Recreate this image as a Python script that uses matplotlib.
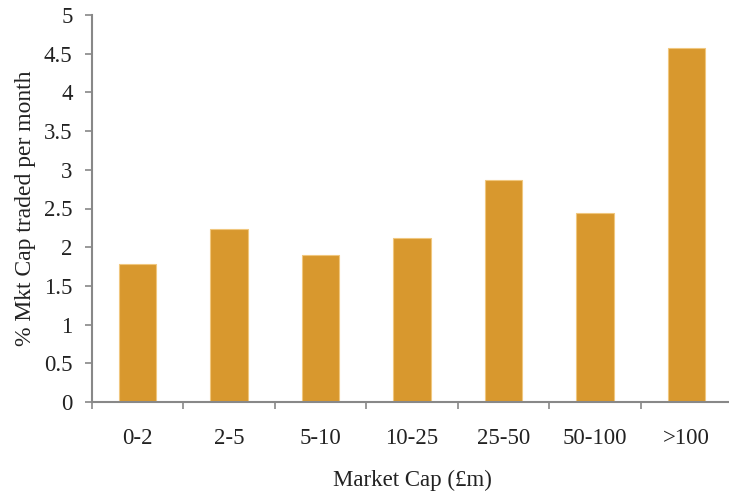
import matplotlib
matplotlib.use("Agg")
import matplotlib.pyplot as plt

categories = ["0-2", "2-5", "5-10", "10-25", "25-50", "50-100", ">100"]
values = [1.78, 2.24, 1.90, 2.12, 2.87, 2.44, 4.57]
yticks = [0, 0.5, 1, 1.5, 2, 2.5, 3, 3.5, 4, 4.5, 5]
ytick_labels = ["0", "0.5", "1", "1.5", "2", "2.5", "3", "3.5", "4", "4.5", "5"]

plt.rcParams["font.family"] = ["Liberation Serif", "DejaVu Serif"]

fig = plt.figure(figsize=(7.29, 4.92), dpi=100)
ax = fig.add_axes([92 / 729, 1 - 402 / 492, 640 / 729, 387 / 492])

x = list(range(len(categories)))
ax.bar(x, values, width=0.41, color="#D8982E", edgecolor="#F0C77E", linewidth=0.8)

ax.set_xlim(-0.5, len(categories) - 0.5)
ax.set_ylim(0, 5)
ax.set_yticks(yticks)
ax.set_yticklabels(ytick_labels, fontsize=16.5, color="#222222")
ax.set_xticks(x)
ax.set_xticklabels(categories, fontsize=16.5, color="#222222")
ax.tick_params(axis="x", length=0, pad=19)
ax.tick_params(axis="y", length=5, color="#888888", width=1.2, pad=9)

# category separator ticks on the x axis
ax.set_xticks([i - 0.5 for i in range(len(categories) + 1)], minor=True)
ax.tick_params(axis="x", which="minor", length=5, color="#888888", width=1.2)

for side in ("top", "right"):
    ax.spines[side].set_visible(False)
for side in ("left", "bottom"):
    ax.spines[side].set_color("#888888")
    ax.spines[side].set_linewidth(1.5)

ax.set_xlabel("Market Cap (£m)", fontsize=16.5, color="#222222", labelpad=15)
ax.set_ylabel("% Mkt Cap traded per month", fontsize=17, color="#222222", labelpad=6)

fig.savefig("out.png", dpi=100)
